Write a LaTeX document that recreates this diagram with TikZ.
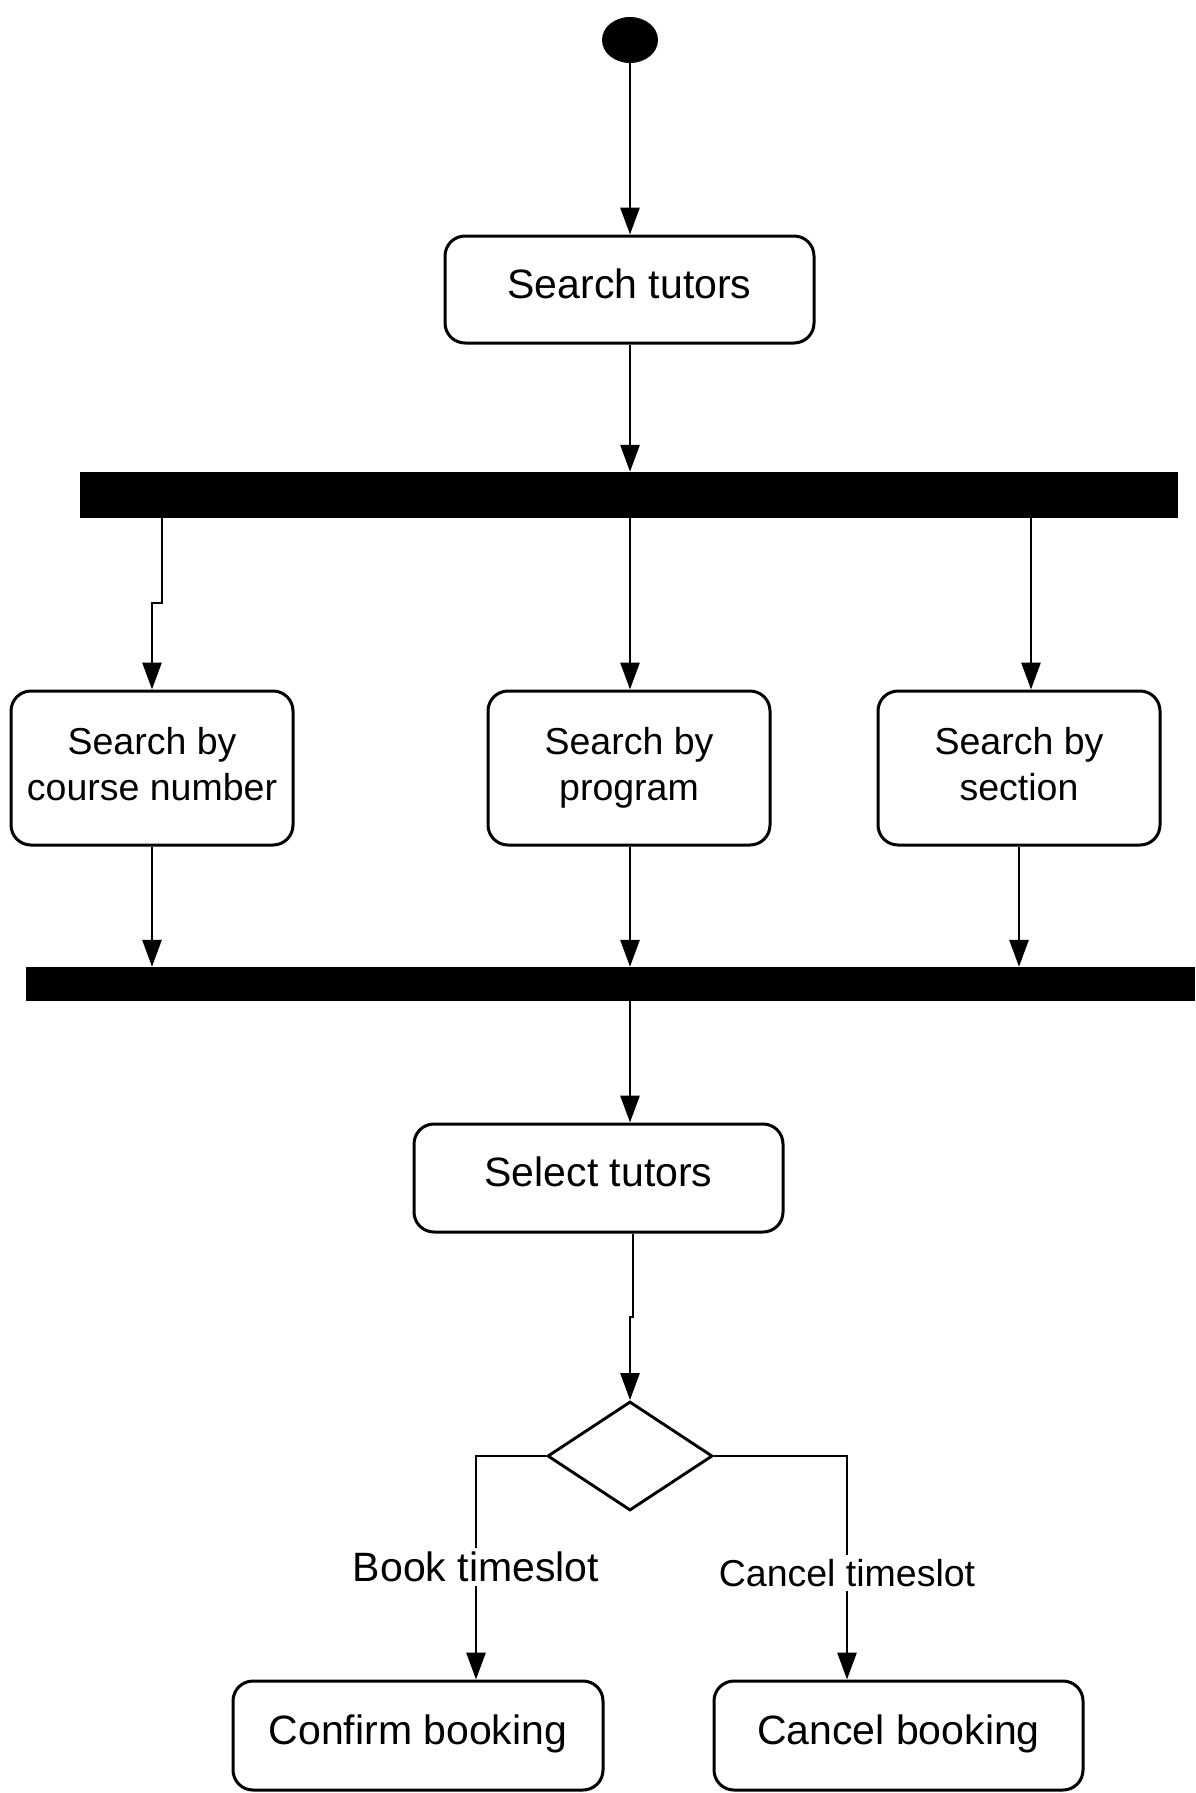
\documentclass[tikz,border=0pt]{standalone}
\usepackage{fontspec}
\setmainfont{Liberation Sans}
\usetikzlibrary{shapes.geometric,arrows.meta}
\tikzset{
  act/.style={draw, line width=3pt, rounded corners=20pt, align=center, inner sep=0pt,
    text depth=12pt, font=\fontsize{41}{46}\selectfont},
  acttwo/.style={act, text depth=9pt, font=\fontsize{37.5}{46}\selectfont},
  bar/.style={fill=black, draw=none, inner sep=0pt},
  arr/.style={line width=2.9pt, -{Triangle[length=27pt,width=19pt]}},
  lbl/.style={fill=white, inner sep=4pt, font=\fontsize{41}{46}\selectfont},
  lblsmall/.style={fill=white, inner sep=4pt, font=\fontsize{37.5}{46}\selectfont}
}
\begin{document}
\begin{tikzpicture}[x=1pt,y=-1pt]
\useasboundingbox (0,0) rectangle (1195,1793);
% nodes
\node[ellipse, fill=black, minimum width=56pt, minimum height=46pt, inner sep=0pt] (start) at (630,40) {};
\node[act, minimum width=369pt, minimum height=107pt] (st) at (629.5,289.5) {Search tutors};
\node[bar, minimum width=1098pt, minimum height=46pt] (bar1) at (629,495) {};
\node[acttwo, minimum width=282pt, minimum height=154pt] (sbc) at (152,768) {Search by\\course number};
\node[acttwo, minimum width=282pt, minimum height=154pt] (sbp) at (629,768) {Search by\\program};
\node[acttwo, minimum width=282pt, minimum height=154pt] (sbs) at (1019,768) {Search by\\section};
\node[bar, minimum width=1169pt, minimum height=34pt] (bar2) at (610.5,984) {};
\node[act, minimum width=369pt, minimum height=108pt] (sel) at (598.5,1178) {Select tutors};
\node[diamond, draw, line width=2.9pt, minimum width=165pt, minimum height=109pt, inner sep=0pt, aspect=1.5] (dia) at (630,1456) {};
\node[act, minimum width=370pt, minimum height=109pt] (conf) at (418,1735.5) {Confirm booking};
\node[act, minimum width=369pt, minimum height=109pt] (canc) at (898.5,1735.5) {Cancel booking};
% helper coordinates
\coordinate (j1) at (162,603);
\coordinate (x630) at (630,0);
\coordinate (x1031) at (1031,0);
\coordinate (x633) at (633,0);
\coordinate (jog) at (633,1317);
\coordinate (bx) at (476,0);
\coordinate (cx) at (847,0);
% connectors
\draw[arr] (start.south) -- (start.south |- st.north);
\draw[arr] (x630 |- st.south) -- (x630 |- bar1.north);
\draw[arr] (j1 |- bar1.south) -- (j1) -| (sbc.north);
\draw[arr] (x630 |- bar1.south) -- (x630 |- sbp.north);
\draw[arr] (x1031 |- bar1.south) -- (x1031 |- sbs.north);
\draw[arr] (sbc.south) -- (sbc.south |- bar2.north);
\draw[arr] (x630 |- sbp.south) -- (x630 |- bar2.north);
\draw[arr] (sbs.south) -- (sbs.south |- bar2.north);
\draw[arr] (x630 |- bar2.south) -- (x630 |- sel.north);
\draw[arr] (x633 |- sel.south) -- (jog) -- (jog -| dia.north) -- (dia.north);
\draw[arr] (dia.west) -| (bx |- conf.north);
\draw[arr] (dia.east) -| (cx |- canc.north);
% labels
\node[lbl] (lbook) at (476,1567) {Book timeslot};
\node[lblsmall] (lcancel) at (847,1573) {Cancel timeslot};
\end{tikzpicture}
\end{document}
